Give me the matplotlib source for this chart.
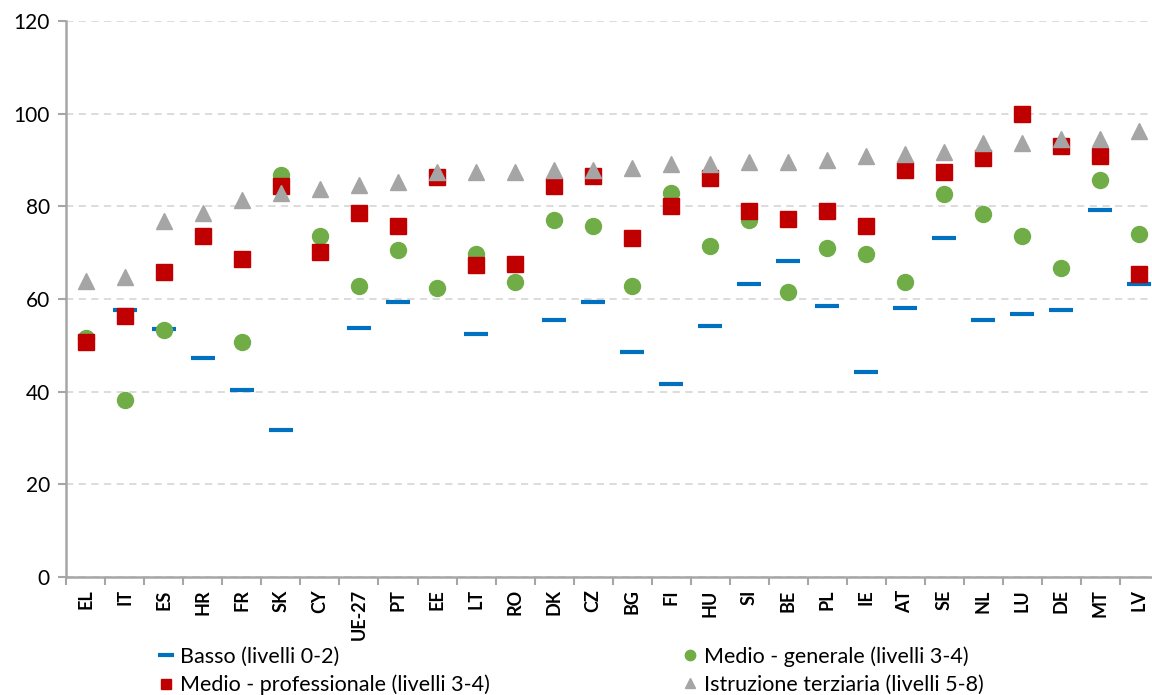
import numpy as np
import matplotlib.pyplot as plt
from matplotlib.ticker import FixedLocator

plt.rcParams['font.family'] = ['Lato', 'DejaVu Sans']

paesi = ['EL', 'IT', 'ES', 'HR', 'FR', 'SK', 'CY', 'UE-27', 'PT', 'EE', 'LT', 'RO', 'DK', 'CZ',
         'BG', 'FI', 'HU', 'SI', 'BE', 'PL', 'IE', 'AT', 'SE', 'NL', 'LU', 'DE', 'MT', 'LV']

nan = np.nan
basso = [nan, 57.5, 53.6, 47.2, 40.3, 31.7, nan, 53.7, 59.4, nan, 52.4, nan, 55.5, 59.4,
         48.6, 41.7, 54.2, 63.3, 68.1, 58.5, 44.3, 58.1, 73.2, 55.5, 56.8, 57.6, 79.2, 63.3]
generale = [51.5, 38.1, 53.3, nan, 50.6, 86.7, 73.5, 62.7, 70.6, 62.4, 69.7, 63.7, 77.1, 75.8,
            62.8, 82.8, 71.4, 77.1, 61.5, 71.0, 69.7, 63.7, 82.7, 78.3, 73.6, 66.7, 85.7, 74.0]
professionale = [50.6, 56.2, 65.8, 73.5, 68.7, 84.3, 70.1, 78.6, 75.8, 86.2, 67.2, 67.6, 84.4, 86.5,
                 73.2, 80.1, 86.0, 78.9, 77.2, 78.9, 75.8, 87.8, 87.3, 90.4, 99.9, 93.0, 90.8, 65.4]
terziaria = [63.8, 64.7, 76.8, 78.5, 81.4, 82.9, 83.7, 84.6, 85.2, 87.4, 87.3, 87.3, 87.8, 87.8,
             88.3, 89.1, 89.1, 89.5, 89.5, 89.9, 90.8, 91.2, 91.7, 93.7, 93.7, 94.6, 94.6, 96.3]

x = np.arange(len(paesi))

fig = plt.figure(figsize=(11.52, 6.95), dpi=100)
ax = fig.add_axes([0.0577, 0.170, 0.948, 0.800])

h1, = ax.plot(x, basso, ls='none', marker='_', ms=17, mew=3, color='#0070C0',
              label='Basso (livelli 0-2)', zorder=3)
h3, = ax.plot(x, generale, ls='none', marker='o', ms=11.5, color='#70AD47', mec='#70AD47',
              label='Medio - generale (livelli 3-4)', zorder=4)
h2, = ax.plot(x, professionale, ls='none', marker='s', ms=11, color='#C00000', mec='#C00000',
              label='Medio - professionale (livelli 3-4)', zorder=5)
h4, = ax.plot(x, terziaria, ls='none', marker='^', ms=12, color='#A5A5A5', mec='#A5A5A5',
              label='Istruzione terziaria (livelli 5-8)', zorder=6)

ax.set_xlim(-0.5, len(paesi) - 0.5)
ax.set_ylim(0, 120)
ax.set_yticks(np.arange(0, 121, 20))
ax.set_xticks(x)
ax.set_xticklabels(paesi, rotation=90, fontsize=13, fontweight='bold')
ax.xaxis.set_minor_locator(FixedLocator(np.arange(-0.5, len(paesi), 1)))
ax.tick_params(axis='x', which='major', length=0, pad=9)
ax.tick_params(axis='x', which='minor', length=6, width=1.5, color='#A6A6A6')
ax.tick_params(axis='y', length=6, width=1.5, color='#A6A6A6', labelsize=15, pad=6)

ax.grid(axis='y', color='#D9D9D9', ls=(0, (4, 3)), lw=1.3)
ax.set_axisbelow(True)
for s in ['top', 'right']:
    ax.spines[s].set_visible(False)
for s in ['left', 'bottom']:
    ax.spines[s].set_color('#A6A6A6')
    ax.spines[s].set_linewidth(1.8)

fig.legend(handles=[h1, h2, h3, h4], ncol=2, frameon=False, fontsize=15.5,
           loc='lower left', bbox_to_anchor=(0.122, -0.028), columnspacing=9.0,
           handlelength=0.6, handletextpad=0.35, labelspacing=0.35, markerscale=0.65)

plt.savefig('out.png')
